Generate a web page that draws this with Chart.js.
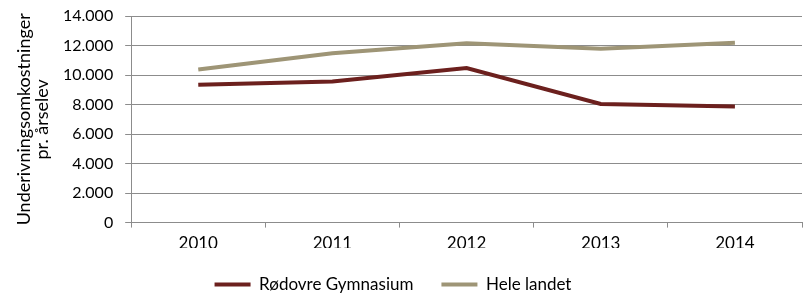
<!DOCTYPE html>
<html>
<head>
<meta charset="utf-8">
<script src="https://cdn.jsdelivr.net/npm/chart.js@4.4.1/dist/chart.umd.min.js"></script>
<style>
  html, body { margin: 0; padding: 0; background: #fff; }
  #wrap { width: 803px; height: 300px; }
</style>
</head>
<body>
<div id="wrap"><canvas id="lineChart"></canvas></div>
<script>
// år
const years = ['2010', '2011', '2012', '2013', '2014'];
// udgifter pr. årselev (kr.)
const rodovre = [9335, 9565, 10470, 8040, 7865];
const heleLandet = [10380, 11470, 12150, 11780, 12190];
const yTicks = [0, 2000, 4000, 6000, 8000, 10000, 12000, 14000];

// flyt legenden lidt til venstre ligesom i Excel
const legendShift = {
    id: 'legendShift',
    afterLayout(chart) {
        chart.legend.left -= 14;
        chart.legend.right -= 14;
    }
};

function lineChart() {

    let lineChart = document.getElementById('lineChart')

    new Chart(lineChart, {
        type: 'line',
        data: {
            labels: years,
            datasets: [
                {
                    label: 'Rødovre Gymnasium',
                    data: rodovre,
                    borderColor: 'rgb(108, 32, 30)',
                    backgroundColor: 'rgb(108, 32, 30)',
                    borderWidth: 4,
                    pointRadius: 0,
                    pointStyle: 'line',
                    tension: 0
                },
                {
                    label: 'Hele landet',
                    data: heleLandet,
                    borderColor: 'rgb(158, 149, 118)',
                    backgroundColor: 'rgb(158, 149, 118)',
                    borderWidth: 4,
                    pointRadius: 0,
                    pointStyle: 'line',
                    tension: 0
                }
            ]
        },
        plugins: [legendShift],
        options: {
            responsive: true,
            maintainAspectRatio: false,
            animation: false,
            layout: {
                padding: { top: 0, right: 1, left: 12, bottom: -3 }
            },
            plugins: {
                legend: {
                    position: 'bottom',
                    labels: {
                        usePointStyle: true,
                        pointStyleWidth: 36,
                        color: '#000',
                        padding: 28,
                        font: { family: 'Lato', size: 17 }
                    }
                },
                tooltip: { enabled: false }
            },
            scales: {
                x: {
                    offset: true,
                    border: { color: '#8c8c8c', width: 1 },
                    grid: {
                        offset: true,
                        drawOnChartArea: false,
                        drawTicks: true,
                        tickLength: 5,
                        color: '#8c8c8c'
                    },
                    ticks: {
                        color: '#000',
                        padding: 6,
                        font: { family: 'Lato', size: 17 }
                    },
                    afterFit: function (axis) {
                        axis.height -= 12;
                    }
                },
                y: {
                    min: 0,
                    max: 14000,
                    border: { color: '#8c8c8c', width: 1 },
                    grid: {
                        color: '#8c8c8c',
                        tickLength: 6
                    },
                    afterBuildTicks: function (axis) {
                        axis.ticks = yTicks.map(v => ({ value: v }));
                    },
                    afterFit: function (axis) {
                        axis.paddingTop = 16;
                    },
                    ticks: {
                        color: '#000',
                        padding: 12,
                        font: { family: 'Lato', size: 16 },
                        callback: function (value) {
                            return value.toLocaleString('da-DK');
                        }
                    },
                    title: {
                        display: true,
                        text: ['Underivningsomkostninger', 'pr. årselev'],
                        color: '#000',
                        padding: { top: 3, bottom: 0 },
                        font: { family: 'Lato', size: 18, lineHeight: 1.0 }
                    }
                }
            }
        }
    });
}

lineChart();
</script>
</body>
</html>
